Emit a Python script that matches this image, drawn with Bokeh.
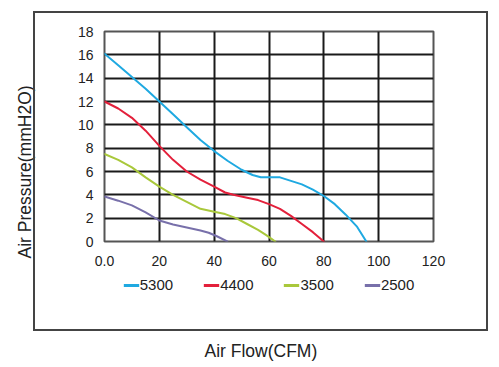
from bokeh.plotting import figure
from bokeh.layouts import column
from bokeh.models import (Range1d, FixedTicker, Legend, LegendItem, Title, InlineStyleSheet)
from bokeh.embed import file_html
from bokeh.resources import INLINE

# ---- data ----
x_5300 = [0, 5, 10, 15, 20, 25, 30, 35, 40, 45, 50, 54, 57, 60, 64, 68, 72, 76, 80, 84, 88, 92, 95.5]
y_5300 = [16.1, 15.1, 14.1, 13.1, 12.0, 10.9, 9.8, 8.7, 7.75, 6.9, 6.15, 5.7, 5.5, 5.5, 5.5, 5.2, 4.9, 4.45, 3.9, 3.2, 2.3, 1.3, 0.0]
x_4400 = [0, 5, 10, 15, 20, 25, 30, 35, 40, 44, 47, 52, 56, 60, 64, 68, 72, 76, 80]
y_4400 = [12.0, 11.4, 10.6, 9.5, 8.2, 7.0, 6.0, 5.3, 4.7, 4.2, 4.0, 3.75, 3.55, 3.2, 2.8, 2.2, 1.5, 0.8, 0.0]
x_3500 = [0, 5, 10, 15, 20, 25, 30, 35, 40, 44, 48, 52, 56, 59, 62.3]
y_3500 = [7.5, 7.0, 6.35, 5.5, 4.7, 4.0, 3.4, 2.8, 2.55, 2.35, 2.0, 1.5, 1.0, 0.55, 0.0]
x_2500 = [0, 5, 10, 15, 20, 25, 30, 35, 38, 41, 44.8]
y_2500 = [3.85, 3.5, 3.1, 2.5, 1.8, 1.45, 1.2, 0.95, 0.75, 0.45, 0.0]

series_names = ["5300", "4400", "3500", "2500"]
series_colors = ["#1fa9e1", "#e3203b", "#a9c83b", "#7870aa"]

x_ticks = [0, 20, 40, 60, 80, 100, 120]
x_tick_labels = ["0.0", "20", "40", "60", "80", "100", "120"]
y_ticks = [0, 2, 4, 6, 8, 10, 12, 14, 16, 18]

x_title = "Air Flow(CFM)"
y_title = "Air Pressure(mmH2O)"

FONT = "Liberation Sans"
TXT = "#222222"

xs = [x_5300, x_4400, x_3500, x_2500]
ys = [y_5300, y_4400, y_3500, y_2500]

# ---- main chart ----
p = figure(width=499, height=270, output_backend="svg", toolbar_location=None,
           x_range=Range1d(0, 120), y_range=Range1d(0, 18),
           min_border_left=104, min_border_top=31, min_border_right=66, min_border_bottom=29)
p.background_fill_color = "white"
p.border_fill_color = "white"
p.outline_line_color = "#555555"
p.outline_line_width = 2

for ax in (p.xaxis[0], p.yaxis[0]):
    ax.axis_line_color = None
    ax.major_tick_line_color = None
    ax.minor_tick_line_color = None
    ax.major_label_text_font = FONT
    ax.major_label_text_font_size = "14px"
    ax.major_label_text_color = TXT

p.xaxis[0].ticker = FixedTicker(ticks=x_ticks)
p.xaxis[0].major_label_overrides = {t: l for t, l in zip(x_ticks, x_tick_labels)}
p.xaxis[0].major_label_standoff = 8
p.yaxis[0].ticker = FixedTicker(ticks=y_ticks)
p.yaxis[0].major_label_standoff = 5

p.xgrid.grid_line_color = "#1a1a1a"
p.xgrid.grid_line_width = 2
p.ygrid.grid_line_color = "#1a1a1a"
p.ygrid.grid_line_width = 2

for color, xv, yv in zip(series_colors, xs, ys):
    p.line(xv, yv, line_color=color, line_width=2, line_join="round", line_cap="round")

# spacer between y tick labels and y title, then y title
p.add_layout(Title(text=" ", text_font_size="1px", standoff=37), "left")
p.add_layout(Title(text=y_title, align="left", offset=-17, text_font=FONT,
                   text_font_size="17.5px", text_font_style="normal",
                   text_color=TXT, standoff=0), "left")

# ---- legend strip + x title (same series, ranges set so no curve shows here) ----
q = figure(width=499, height=97, output_backend="svg", toolbar_location=None,
           x_range=Range1d(-1000, -999), y_range=Range1d(-1000, -999),
           x_axis_location=None, y_axis_location=None,
           min_border_left=104, min_border_right=66, min_border_top=0, min_border_bottom=0)
q.grid.visible = False
q.outline_line_color = None
q.background_fill_color = "white"
q.border_fill_color = "white"

items = []
for name, color, xv, yv in zip(series_names, series_colors, xs, ys):
    r = q.line(xv, yv, line_color=color, line_width=3)
    items.append(LegendItem(label=name, renderers=[r]))
legend = Legend(items=items, orientation="horizontal", location="top_center",
                label_text_font=FONT, label_text_font_size="15px", label_text_color=TXT,
                glyph_width=16, glyph_height=14, label_standoff=1, spacing=30,
                padding=0, margin=6, border_line_color=None, background_fill_alpha=0)
q.add_layout(legend)

q.add_layout(Title(text=x_title, align="left", offset=100, text_font=FONT,
                   text_font_size="17.5px", text_font_style="normal",
                   text_color=TXT, standoff=14), "below")

box_css = InlineStyleSheet(css="""
:host { position: relative; }
:host::after {
  content: "";
  position: absolute;
  left: 33px; top: 11px; width: 455px; height: 320px;
  box-sizing: border-box;
  border: 2px solid #444444;
  pointer-events: none;
}
""")

layout = column(p, q, spacing=0, stylesheets=[box_css])

open("out.html", "w").write(file_html(layout, INLINE))
